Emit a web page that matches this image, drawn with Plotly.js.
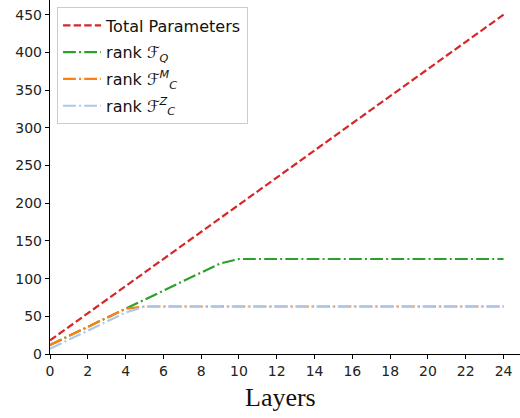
<!DOCTYPE html>
<html>
<head>
<meta charset="utf-8">
<script src="https://cdn.plot.ly/plotly-3.0.1.min.js"></script>
<style>html,body{margin:0;padding:0;background:#fff}#chart{width:520px;height:418px}</style>
</head>
<body>
<div id="chart"></div>
<script>
const layers = [0,1,2,3,4,5,6,7,8,9,10,11,12,13,14,15,16,17,18,19,20,21,22,23,24];
const totalParams = [18,36,54,72,90,108,126,144,162,180,198,216,234,252,270,288,306,324,342,360,378,396,414,432,450];
const rankFQ = [12,24,36,48,60,72,84,96,108,120,126,126,126,126,126,126,126,126,126,126,126,126,126,126,126];
const rankFCM = [12,24,36,48,60,63,63,63,63,63,63,63,63,63,63,63,63,63,63,63,63,63,63,63,63];
const rankFCZ = [7,19,31,43,55,63,63,63,63,63,63,63,63,63,63,63,63,63,63,63,63,63,63,63,63];
const xTicks = [0,2,4,6,8,10,12,14,16,18,20,22,24];
const yTicks = [0,50,100,150,200,250,300,350,400,450];
const names = ['Total Parameters', 'rank ℱ<sub><i>Q</i></sub>', 'rank ℱ<sup><i>M</i></sup><sub><i>C</i></sub>', 'rank ℱ<sup><i>Z</i></sup><sub><i>C</i></sub>'];
const xTitle = 'Layers';

const dashdot = '12.8px,3.2px,2px,3.2px';
const traces = [
  {x: layers, y: totalParams, name: names[0], legendgroup: 'a', mode: 'lines', line: {color: '#d62728', width: 2.2, dash: '7.4px,3.2px'}},
  {x: layers, y: rankFQ, name: names[1], legendgroup: 'b', mode: 'lines', line: {color: '#2ca02c', width: 2.2, dash: dashdot}},
  {x: layers, y: rankFCM, name: names[2], legendgroup: 'c', mode: 'lines', line: {color: '#ff7f0e', width: 2.2, dash: dashdot}},
  {x: layers, y: rankFCZ, name: names[3], legendgroup: 'd', mode: 'lines', line: {color: '#aec7e8', width: 2.2, dash: dashdot}}
];
const tickFont = {family: 'DejaVu Sans', size: 14, color: '#222'};
const layout = {
  width: 520, height: 418,
  margin: {l: 50, r: 0, t: 0, b: 64},
  paper_bgcolor: '#fff', plot_bgcolor: '#fff',
  showlegend: true,
  legend: {x: 0.015, y: 0.979, xanchor: 'left', yanchor: 'top', bgcolor: 'rgba(255,255,255,0.8)',
           traceorder: 'grouped', tracegroupgap: 3, itemwidth: 38,
           bordercolor: '#cccccc', borderwidth: 1, font: {family: 'DejaVu Sans', size: 16, color: '#111'}},
  xaxis: {range: [0, 24.87], tickvals: xTicks, ticktext: xTicks.map(String), showgrid: false, zeroline: false,
          showline: true, linecolor: '#000', linewidth: 1.2, ticks: 'outside', ticklen: 4, tickcolor: '#000', tickwidth: 1,
          tickfont: tickFont},
  yaxis: {range: [0, 469.5], tickvals: yTicks, ticktext: yTicks.map(String), showgrid: false, zeroline: false,
          showline: true, linecolor: '#000', linewidth: 1.2, ticks: 'outside', ticklen: 4, tickcolor: '#000', tickwidth: 1,
          tickfont: tickFont},
  annotations: [{text: xTitle, xref: 'paper', yref: 'paper', x: 0.49, y: -0.122, xanchor: 'center', yanchor: 'middle',
                 showarrow: false, font: {family: 'Liberation Serif', size: 26, color: '#111'}}]
};
Plotly.newPlot('chart', traces, layout, {displayModeBar: false, staticPlot: true});
</script>
</body>
</html>
